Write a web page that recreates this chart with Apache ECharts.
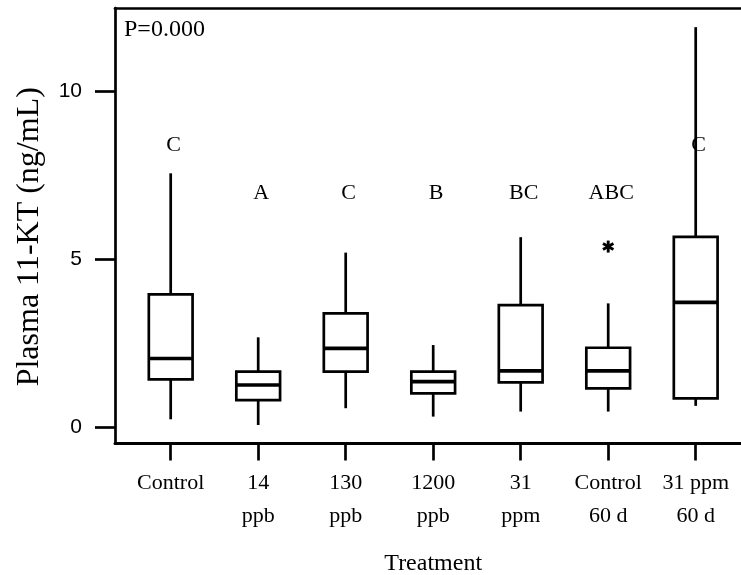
<!DOCTYPE html>
<html>
<head>
<meta charset="utf-8">
<script src="https://cdn.jsdelivr.net/npm/echarts@6/dist/echarts.min.js"></script>
<style>
  html, body { margin: 0; padding: 0; background: #fff; }
  #chart { width: 741px; height: 575px; }
</style>
</head>
<body>
<div id="chart"></div>
<script>
// Plasma 11-KT by treatment group (box = quartiles, bar = median, lines = whiskers)
const categories = ['Control', '14\nppb', '130\nppb', '1200\nppb', '31\nppm', 'Control\n60 d', '31 ppm\n60 d'];
const whiskerLow  = [0.23, 0.06, 0.56, 0.31, 0.46, 0.46, 0.63];
const quartile1   = [1.42, 0.80, 1.65, 1.00, 1.33, 1.15, 0.85];
const medians     = [2.04, 1.25, 2.34, 1.35, 1.67, 1.67, 3.71];
const quartile3   = [3.95, 1.65, 3.38, 1.65, 3.63, 2.36, 5.66];
const whiskerHigh = [7.55, 2.67, 5.19, 2.44, 5.65, 3.68, 11.90];

// outlying observations: [group index, value]
const outliers = [[5, 5.37]];

// Tukey grouping letters and the height they are written at
const groupLetters = ['C', 'A', 'C', 'B', 'BC', 'ABC', 'C'];
const letterLevels = [8.38, 6.96, 6.96, 6.96, 6.96, 6.96, 8.38];

const yTicks = [0, 5, 10];
const yMin = -0.49, yMax = 12.47;

const SERIF = '"Liberation Serif", "Times New Roman", serif';
const SANS = '"Liberation Sans", Arial, sans-serif';

const boxData = categories.map((c, i) =>
  [i, whiskerLow[i], quartile1[i], medians[i], quartile3[i], whiskerHigh[i]]);
const letterData = categories.map((c, i) => [i, letterLevels[i]]);

const chart = echarts.init(document.getElementById('chart'), null, { renderer: 'canvas' });

chart.setOption({
  animation: false,
  backgroundColor: '#ffffff',
  title: {
    text: 'P=0.000',
    left: 124, top: 18, padding: 0,
    textStyle: { fontFamily: SERIF, fontSize: 24, fontWeight: 'normal', color: '#000' }
  },
  grid: [
    { left: 115, right: 0, top: 8, bottom: 131.5, containLabel: false, outerBoundsMode: 'none' },
    { left: 126.95, right: 1.55, top: 8, bottom: 131.5, containLabel: false, outerBoundsMode: 'none' }
  ],
  xAxis: [
    { // frame: bottom edge
      gridIndex: 0, type: 'value', min: 0, max: 1, position: 'bottom',
      axisLine: { show: true, onZero: false, lineStyle: { color: '#000', width: 3 } },
      axisTick: { show: false }, axisLabel: { show: false }, splitLine: { show: false }
    },
    { // frame: top edge
      gridIndex: 0, type: 'value', min: 0, max: 1, position: 'top',
      axisLine: { show: true, onZero: false, lineStyle: { color: '#000', width: 2.7 } },
      axisTick: { show: false }, axisLabel: { show: false }, splitLine: { show: false }
    },
    { // treatment categories
      gridIndex: 1, type: 'category', data: categories, boundaryGap: true, position: 'bottom',
      axisLine: { show: false, onZero: false },
      axisTick: { show: true, alignWithLabel: true, length: 17, lineStyle: { color: '#000', width: 2.7 } },
      axisLabel: { interval: 0, margin: 23, fontFamily: SERIF, fontSize: 22, lineHeight: 33, color: '#000' },
      splitLine: { show: false },
      name: 'Treatment', nameLocation: 'middle', nameGap: 108,
      nameTextStyle: { fontFamily: SERIF, fontSize: 24, color: '#000' }
    }
  ],
  yAxis: [
    {
      gridIndex: 0, type: 'value', min: yMin, max: yMax,
      axisLine: { show: true, onZero: false, lineStyle: { color: '#000', width: 2.7 } },
      axisTick: { show: true, customValues: yTicks, length: 20, lineStyle: { color: '#000', width: 2.7 } },
      axisLabel: { show: true, customValues: yTicks, margin: 33, fontFamily: SANS, fontSize: 21, color: '#000' },
      splitLine: { show: false },
      name: 'Plasma 11-KT (ng/mL)', nameLocation: 'middle', nameGap: 69,
      nameTextStyle: { fontFamily: SERIF, fontSize: 32, color: '#000', padding: [0, 22, 0, 0] }
    },
    {
      gridIndex: 1, type: 'value', min: yMin, max: yMax, show: false
    }
  ],
  series: [
    {
      name: 'boxes', type: 'custom', xAxisIndex: 2, yAxisIndex: 1,
      data: boxData,
      encode: { x: 0, y: [1, 2, 3, 4, 5] },
      renderItem: function (params, api) {
        const i = api.value(0);
        const lo = api.coord([i, api.value(1)]);
        const q1 = api.coord([i, api.value(2)]);
        const md = api.coord([i, api.value(3)]);
        const q3 = api.coord([i, api.value(4)]);
        const hi = api.coord([i, api.value(5)]);
        const half = api.size([1, 0])[0] * 0.25;
        const x = lo[0];
        const stroke = { stroke: '#000', lineWidth: 2.7, fill: null };
        return {
          type: 'group',
          children: [
            { type: 'line', shape: { x1: x, y1: q1[1], x2: x, y2: lo[1] }, style: stroke },
            { type: 'line', shape: { x1: x, y1: q3[1], x2: x, y2: hi[1] }, style: stroke },
            { type: 'rect', shape: { x: x - half, y: q3[1], width: half * 2, height: q1[1] - q3[1] },
              style: { stroke: '#000', lineWidth: 2.7, fill: '#fff' } },
            { type: 'line', shape: { x1: x - half, y1: md[1], x2: x + half, y2: md[1] },
              style: { stroke: '#000', lineWidth: 3.6 } }
          ]
        };
      }
    },
    {
      name: 'outliers', type: 'custom', xAxisIndex: 2, yAxisIndex: 1,
      data: outliers,
      encode: { x: 0, y: 1 },
      renderItem: function (params, api) {
        const p = api.coord([api.value(0), api.value(1)]);
        const r = 6;
        const s = { stroke: '#000', lineWidth: 2.9 };
        const arms = [90, 30, 150].map(function (deg) {
          const a = deg * Math.PI / 180;
          const dx = Math.cos(a) * r, dy = Math.sin(a) * r;
          return { type: 'line', shape: { x1: p[0] - dx, y1: p[1] - dy, x2: p[0] + dx, y2: p[1] + dy }, style: s };
        });
        return { type: 'group', children: arms };
      }
    },
    {
      name: 'letters', type: 'custom', xAxisIndex: 2, yAxisIndex: 1,
      data: letterData,
      encode: { x: 0, y: 1 },
      z: 5,
      renderItem: function (params, api) {
        const p = api.coord([api.value(0), api.value(1)]);
        return {
          type: 'text', x: p[0] + 3, y: p[1],
          style: {
            text: groupLetters[params.dataIndex],
            font: '22px ' + SERIF, fill: '#000',
            align: 'center', verticalAlign: 'middle'
          }
        };
      }
    }
  ]
});
</script>
</body>
</html>
